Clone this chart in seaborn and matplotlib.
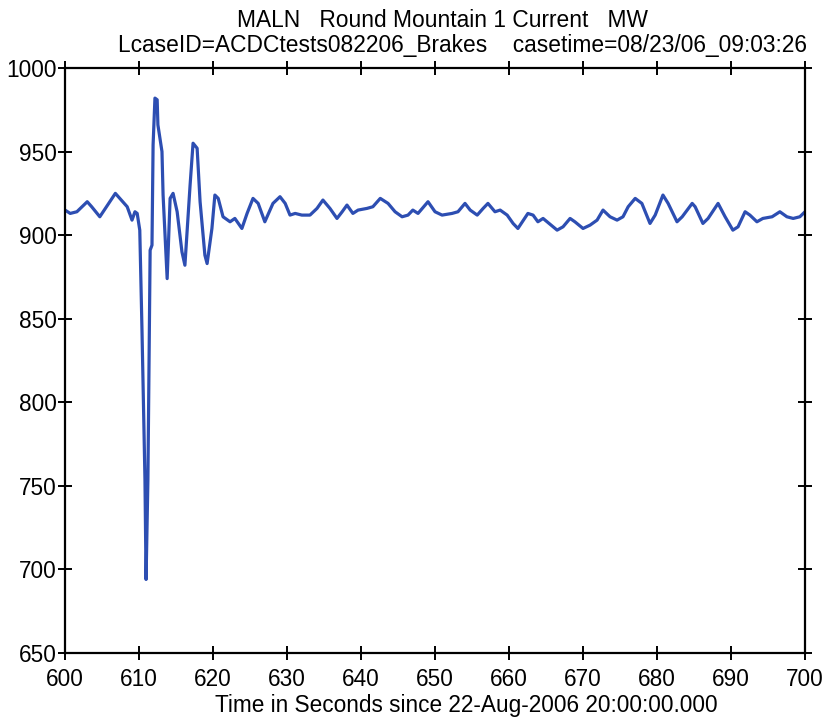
import numpy as np
import pandas as pd
import matplotlib
matplotlib.use("Agg")
import matplotlib.pyplot as plt
import seaborn as sns

# ---- data ----
time_s = [600.0, 600.7, 601.6, 603.0, 603.6, 604.7, 606.8, 608.4, 609.05, 609.45,
          609.75, 610.1, 610.4, 610.8, 610.95, 611.2, 611.5, 611.75, 611.9, 612.15,
          612.45, 612.55, 613.1, 613.25, 613.8, 614.2, 614.6, 615.15, 615.8, 616.2,
          616.6, 616.9, 617.3, 617.85, 618.25, 618.9, 619.2, 619.85, 620.25, 620.7,
          621.35, 622.3, 622.95, 623.9, 624.6, 625.4, 626.1, 627.0, 628.1, 629.05,
          629.75, 630.4, 631.1, 632.0, 633.1, 634.05, 634.85, 635.8, 636.75, 637.45,
          638.1, 638.9, 639.6, 640.8, 641.6, 642.6, 643.65, 644.6, 645.55, 646.35,
          647.0, 647.7, 649.05, 650.0, 650.95, 652.3, 653.1, 654.05, 654.75, 655.7,
          656.5, 657.15, 658.1, 658.8, 659.75, 660.55, 661.2, 662.55, 663.25, 663.9,
          664.6, 666.5, 667.3, 668.25, 668.9, 670.0, 670.95, 671.9, 672.7, 673.65,
          674.6, 675.4, 676.1, 677.05, 677.95, 679.05, 679.75, 680.8, 681.5, 682.7,
          683.4, 684.75, 685.15, 686.2, 686.9, 688.25, 689.2, 690.25, 690.95, 691.9,
          692.55, 693.5, 694.3, 695.55, 696.6, 697.55, 698.4, 699.3, 700.0]
mw = [915, 913, 914, 920, 917, 911, 925, 917, 909, 914,
      913, 903, 843, 754, 694, 754, 891, 894, 954, 982,
      981, 966, 950, 924, 874, 922, 925, 914, 890, 882,
      910, 930, 955, 952, 920, 888, 883, 904, 924, 922,
      911, 908, 910, 904, 913, 922, 919, 908, 919, 923,
      919, 912, 913, 912, 912, 916, 921, 916, 910, 914,
      918, 913, 915, 916, 917, 922, 919, 914, 911, 912,
      915, 913, 920, 914, 912, 913, 914, 919, 915, 912,
      916, 919, 914, 915, 912, 907, 904, 913, 912, 908,
      910, 903, 905, 910, 908, 904, 906, 909, 915, 911,
      909, 911, 917, 922, 919, 907, 912, 924, 919, 908,
      911, 919, 917, 907, 910, 919, 911, 903, 905, 914,
      912, 908, 910, 911, 914, 911, 910, 911, 914]

x_ticks = [600, 610, 620, 630, 640, 650, 660, 670, 680, 690, 700]
y_ticks = [650, 700, 750, 800, 850, 900, 950, 1000]

title_line1 = "MALN   Round Mountain 1 Current   MW"
title_line2 = "LcaseID=ACDCtests082206_Brakes    casetime=08/23/06_09:03:26"
x_label = "Time in Seconds since 22-Aug-2006 20:00:00.000"

df = pd.DataFrame({"t": time_s, "mw": mw})

sns.set_style("ticks")
plt.rcParams["font.family"] = ["Liberation Sans", "DejaVu Sans"]
plt.rcParams["text.color"] = "black"

fig = plt.figure(figsize=(8.37, 7.19), dpi=100)
ax = fig.add_axes([0.0777, 0.0918, 0.8841, 0.8136])

sns.lineplot(data=df, x="t", y="mw", ax=ax, sort=False, estimator=None,
             color="#2d4eb2", linewidth=2.3)

ax.set_xlim(600, 700)
ax.set_ylim(650, 1000)
ax.set_xticks(x_ticks)
ax.set_yticks(y_ticks)
ax.set_xlabel("")
ax.set_ylabel("")
for s in ax.spines.values():
    s.set_visible(True)
    s.set_linewidth(1.6)
    s.set_color("black")
ax.tick_params(direction="inout", length=10, width=1.4, labelsize=16.3,
               top=True, right=True, labeltop=False, labelright=False,
               colors="black", labelcolor="black", pad=1)
ax.tick_params(axis="x", pad=6)

fig.text(0.529, 0.972, title_line1, ha="center", va="center", fontsize=16.4, color="black")
fig.text(0.552, 0.937, title_line2, ha="center", va="center", fontsize=16.4, color="black")
fig.text(0.557, 0.019, x_label, ha="center", va="center", fontsize=16.3, color="black")

fig.savefig("out.png", dpi=100)
